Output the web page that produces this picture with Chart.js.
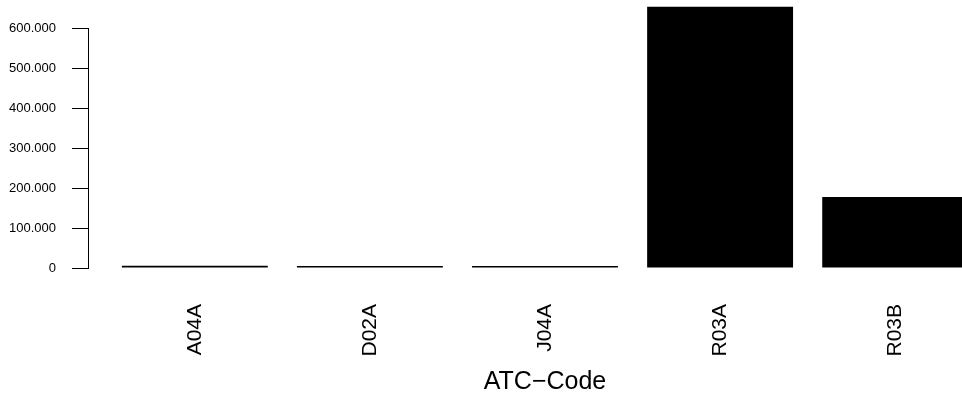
<!DOCTYPE html>
<html><head><meta charset="utf-8">
<script src="https://cdn.jsdelivr.net/npm/chart.js@4/dist/chart.umd.min.js"></script>
<style>
html,body{margin:0;padding:0;overflow:hidden;background:#fff;}
#wrap{width:1002px;height:400px;position:relative;}
</style></head><body>
<div id="wrap"><canvas id="c"></canvas></div>
<script>
const categories = ['A04A', 'D02A', 'J04A', 'R03A', 'R03B'];
const values = [5500, 2000, 2000, 653000, 177500];
const yTicks = [0, 100000, 200000, 300000, 400000, 500000, 600000];
const xTitle = 'ATC\u2212Code';

const FAMILY = '"Liberation Sans", Arial, Helvetica, sans-serif';
function fmtDE(v) { return String(v).replace(/\B(?=(\d{3})+(?!\d))/g, '.'); }

new Chart(document.getElementById('c'), {
  type: 'bar',
  data: {
    datasets: [{
      data: values.map((v, i) => ({ x: i, y: v })),
      backgroundColor: '#000',
      borderColor: '#000',
      borderWidth: 0,
      minBarLength: 2,
      barPercentage: 1,
      categoryPercentage: 1 / 1.2,
      clip: false
    }]
  },
  options: {
    responsive: true,
    maintainAspectRatio: false,
    animation: false,
    layout: { padding: { top: 28, left: 0, right: 0, bottom: 0 } },
    plugins: { legend: { display: false }, tooltip: { enabled: false } },
    scales: {
      x: {
        type: 'linear',
        offset: false,
        min: -0.61,
        max: 4.61,
        grid: { display: false, drawTicks: false, offset: false },
        border: { display: false },
        afterBuildTicks: s => { s.ticks = categories.map((c, i) => ({ value: i })); },
        afterFit: s => { s.height = 132; },
        ticks: {
          autoSkip: false, minRotation: 90, maxRotation: 90, padding: 36, color: '#000',
          font: { family: FAMILY, size: 21 },
          callback: v => categories[v]
        },
        title: {
          display: true, text: xTitle, color: '#000',
          font: { family: FAMILY, size: 25 },
          padding: { top: 0, bottom: 3 }
        }
      },
      y: {
        min: 0,
        max: 600000,
        afterBuildTicks: s => { s.ticks = yTicks.map(v => ({ value: v })); },
        afterFit: s => { s.width = 88; },
        grid: { drawOnChartArea: false, drawTicks: true, tickLength: 16, color: '#000', lineWidth: 1 },
        border: { display: true, color: '#000', width: 1 },
        ticks: { padding: 16, color: '#000', font: { family: FAMILY, size: 13 }, callback: v => fmtDE(v) }
      }
    }
  }
});
</script></body></html>
